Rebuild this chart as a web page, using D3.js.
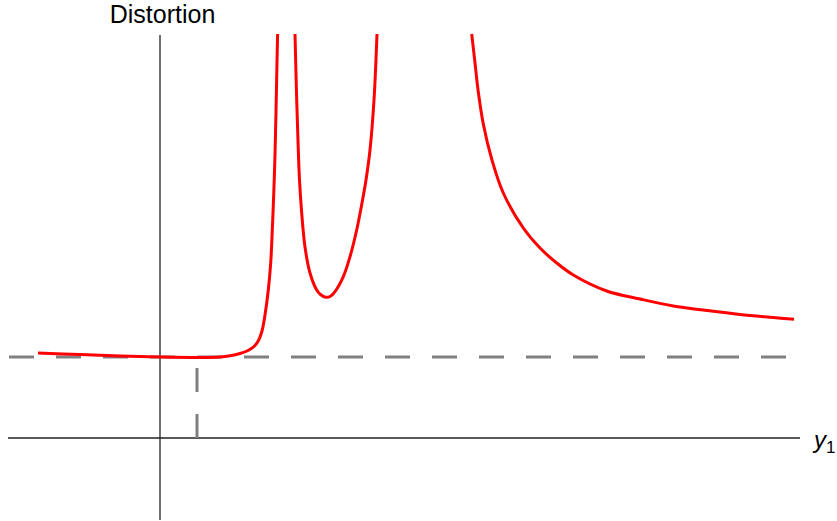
<!DOCTYPE html>
<html>
<head>
<meta charset="utf-8">
<script src="https://cdn.jsdelivr.net/npm/d3@7"></script>
<style>
  body { margin: 0; background: #fff; }
  text { font-family: "Liberation Sans", Arial, sans-serif; }
</style>
</head>
<body>
<div id="chart"></div>
<script>
// curve branches (x = y1, y = distortion)
var branch1X = [-1.22, -0.80, -0.40, 0, 0.40, 0.60, 0.70, 0.80, 0.88, 0.94, 0.985, 1.02, 1.05, 1.083, 1.107, 1.123, 1.138, 1.15, 1.16, 1.17, 1.176];
var branch1Y = [0.85, 0.835, 0.82, 0.81, 0.805, 0.81, 0.822, 0.845, 0.875, 0.915, 0.975, 1.07, 1.23, 1.48, 1.75, 2.08, 2.46, 2.83, 3.26, 3.76, 4.04];
var branch2X = [1.35, 1.367, 1.383, 1.395, 1.417, 1.45, 1.50, 1.567, 1.605, 1.657, 1.705, 1.75, 1.833, 1.90, 1.967, 2.02, 2.06, 2.10, 2.14, 2.17];
var branch2Y = [4.04, 3.38, 2.88, 2.58, 2.25, 1.91, 1.65, 1.48, 1.435, 1.407, 1.417, 1.463, 1.613, 1.813, 2.08, 2.35, 2.58, 2.88, 3.38, 4.04];
var branch3X = [3.117, 3.15, 3.183, 3.233, 3.317, 3.433, 3.633, 3.80, 3.967, 4.133, 4.467, 4.80, 5.133, 5.467, 5.80, 6.133, 6.34];
var branch3Y = [4.04, 3.75, 3.46, 3.14, 2.79, 2.45, 2.10, 1.90, 1.75, 1.63, 1.47, 1.39, 1.32, 1.275, 1.235, 1.205, 1.187];

var distLevel = 0.81;   // dashed distortion level
var y1Mark = 0.37;      // dashed drop line

var svgWidth = 837;
var svgHeight = 521;

var svg = d3.select("#chart")
  .append("svg")
  .attr("width", svgWidth)
  .attr("height", svgHeight);

var x = d3.scaleLinear().domain([0, 1]).range([160, 260]);
var y = d3.scaleLinear().domain([0, 1]).range([438, 338]);

// axes
svg.append("line")
  .attr("x1", x(-1.52)).attr("x2", x(6.4))
  .attr("y1", y(0)).attr("y2", y(0))
  .attr("stroke", "#222").attr("stroke-width", 1.3);

svg.append("line")
  .attr("x1", x(0)).attr("x2", x(0))
  .attr("y1", y(4.03)).attr("y2", y(-0.82))
  .attr("stroke", "#222").attr("stroke-width", 1.3);

// dashed lines
svg.append("line")
  .attr("x1", x(-1.51)).attr("x2", x(6.35))
  .attr("y1", y(distLevel)).attr("y2", y(distLevel))
  .attr("stroke", "#808080").attr("stroke-width", 3)
  .attr("stroke-dasharray", "25,22");

svg.append("line")
  .attr("x1", x(y1Mark)).attr("x2", x(y1Mark))
  .attr("y1", y(0)).attr("y2", y(distLevel))
  .attr("stroke", "#808080").attr("stroke-width", 3)
  .attr("stroke-dasharray", "24,22");

// curve
var line = d3.line()
  .x(d => x(d[0]))
  .y(d => y(d[1]))
  .curve(d3.curveCatmullRom.alpha(0.5));

[[branch1X, branch1Y], [branch2X, branch2Y], [branch3X, branch3Y]].forEach(function(b) {
  var pts = b[0].map((v, i) => [v, b[1][i]]);
  svg.append("path")
    .datum(pts)
    .attr("d", line)
    .attr("fill", "none")
    .attr("stroke", "#ff0000")
    .attr("stroke-width", 3);
});

// labels
svg.append("text")
  .attr("x", 162.5)
  .attr("y", 23)
  .attr("text-anchor", "middle")
  .attr("font-size", "25px")
  .attr("fill", "#000")
  .text("Distortion");

var yl = svg.append("text")
  .attr("x", 814)
  .attr("y", 448)
  .attr("font-size", "24px")
  .attr("fill", "#000");
yl.append("tspan").attr("font-style", "italic").text("y");
yl.append("tspan").attr("font-size", "17px").attr("dy", 5).text("1");
</script>
</body>
</html>
